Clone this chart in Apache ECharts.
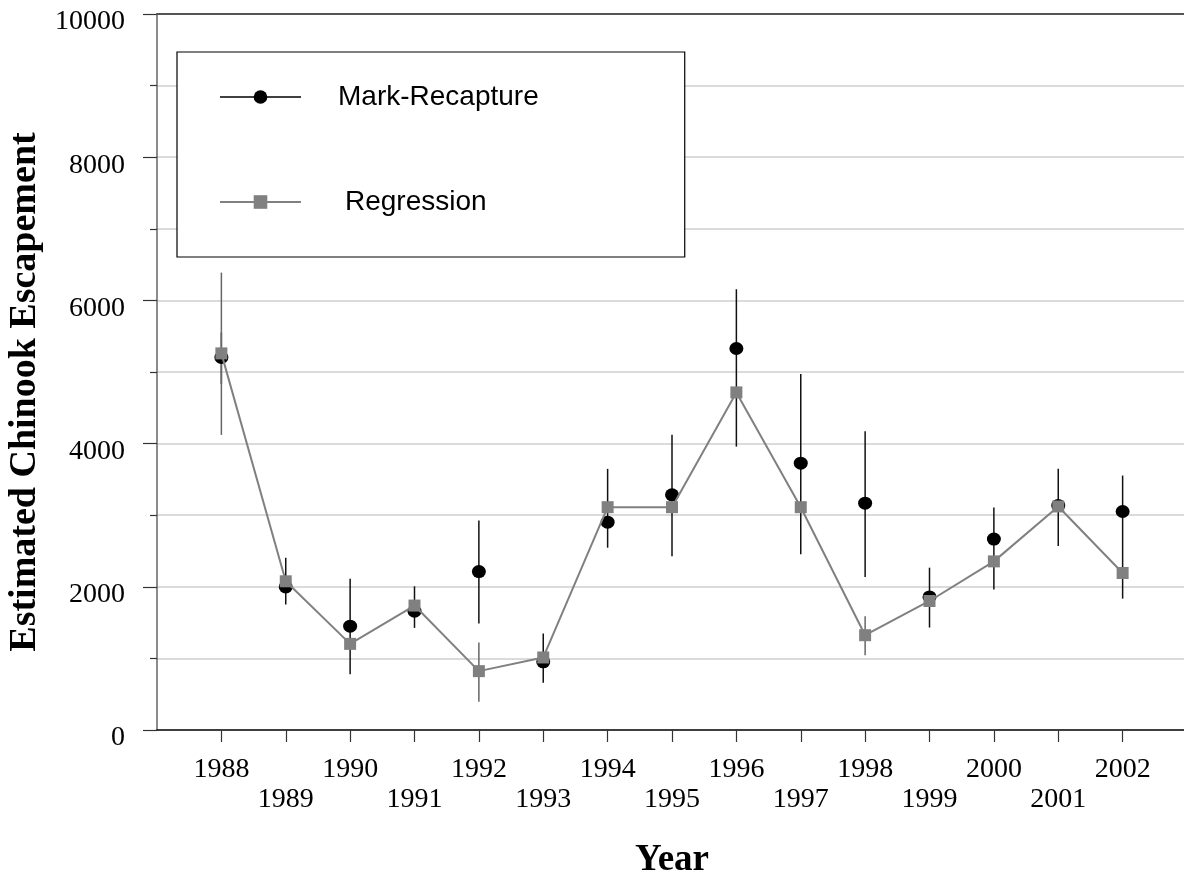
<!DOCTYPE html>
<html>
<head>
<meta charset="utf-8">
<script src="https://cdn.jsdelivr.net/npm/echarts@6/dist/echarts.min.js"></script>
<style>
html,body{margin:0;padding:0;background:#fff;}
#chart{width:1184px;height:877px;}
</style>
</head>
<body>
<div id="chart"></div>
<script>
const years = [1988, 1989, 1990, 1991, 1992, 1993, 1994, 1995, 1996, 1997, 1998, 1999, 2000, 2001, 2002];
const markRecapture = [5203, 1998, 1450, 1659, 2212, 952, 2903, 3285, 5328, 3726, 3168, 1858, 2667, 3136, 3052];
const regression = [5260, 2077, 1203, 1738, 822, 1013, 3112, 3112, 4715, 3112, 1324, 1802, 2355, 3122, 2193];
const mrLow = [4832, 1752, 780, 1426, 1487, 660, 2546, 2425, 3958, 2453, 2137, 1431, 1961, 2569, 1835];
const mrHigh = [5551, 2407, 2114, 2007, 2927, 1347, 3647, 4125, 6156, 4971, 4171, 2267, 3108, 3647, 3554];
const regLow = [4121, null, null, null, 395, null, null, null, null, null, 1045, null, null, null, null];
const regHigh = [6388, null, null, null, 1222, null, null, null, null, null, 1589, null, null, null, null];
const yTicks = [0, 2000, 4000, 6000, 8000, 10000];

const mrPoints = years.map((y, i) => [y, markRecapture[i]]);
const regPoints = years.map((y, i) => [y, regression[i]]);
const mrBars = years.map((y, i) => [y, mrLow[i], mrHigh[i]]);
const regBars = years.map((y, i) => [y, regLow[i], regHigh[i]]).filter(d => d[1] != null);

function barRenderer(color) {
  return function (params, api) {
    const p1 = api.coord([api.value(0), api.value(1)]);
    const p2 = api.coord([api.value(0), api.value(2)]);
    return {
      type: 'line',
      shape: { x1: p1[0], y1: p1[1], x2: p2[0], y2: p2[1] },
      style: { stroke: color, lineWidth: 1.5 }
    };
  };
}

const chart = echarts.init(document.getElementById('chart'), null, { renderer: 'canvas' });
const serif = '"Liberation Serif", "Times New Roman", serif';
const sans = '"Liberation Sans", Arial, sans-serif';

chart.setOption({
  animation: false,
  backgroundColor: '#fff',
  grid: { left: 157, right: -3, top: 14, bottom: 147, containLabel: false, outerBoundsMode: 'none' },
  legend: {
    left: 177, top: 52, orient: 'vertical',
    backgroundColor: '#fff', borderColor: '#000', borderWidth: 1.2, borderRadius: 0,
    padding: [28, 146, 38, 42],
    itemGap: 71, itemWidth: 81, itemHeight: 17,
    textStyle: { fontFamily: sans, fontSize: 28, color: '#000', lineHeight: 34, padding: [0, 0, 0, 32] },
    data: [
      { name: 'Mark-Recapture', lineStyle: { color: '#000', width: 1.5, opacity: 1 } },
      { name: 'Regression', textStyle: { padding: [0, 0, 0, 39] } }
    ]
  },
  xAxis: [{
    type: 'value', min: 1987, max: 2003, interval: 1,
    axisLine: { show: true, onZero: false, lineStyle: { color: '#000', width: 1.5 } },
    axisTick: { show: true, customValues: years, length: 12, lineStyle: { color: '#333', width: 1.2 } },
    axisLabel: {
      customValues: years, margin: 25,
      fontFamily: serif, fontSize: 28, color: '#000', lineHeight: 30,
      formatter: v => (v % 2 === 0 ? String(v) : '\n' + v)
    },
    splitLine: { show: false },
    name: 'Year', nameLocation: 'middle', nameGap: 112,
    nameTextStyle: { fontFamily: serif, fontSize: 37, fontWeight: 'bold', color: '#000', lineHeight: 36 }
  }, {
    type: 'value', position: 'top', min: 1987, max: 2003, z: 10,
    axisLine: { show: true, onZero: false, lineStyle: { color: '#555', width: 2 } },
    axisTick: { show: false }, axisLabel: { show: false }, splitLine: { show: false }
  }],
  yAxis: {
    type: 'value', min: 0, max: 10000, interval: 2000,
    axisLine: { show: true, lineStyle: { color: '#666', width: 1.5 } },
    axisTick: { show: true, length: 14, lineStyle: { color: '#333', width: 1.2 } },
    minorTick: { show: true, splitNumber: 2, length: 7, lineStyle: { color: '#333', width: 1.2 } },
    splitLine: { show: true, showMinLine: false, showMaxLine: false, lineStyle: { color: '#cfcfcf', width: 1.5 } },
    minorSplitLine: { show: true, lineStyle: { color: '#cfcfcf', width: 1.5 } },
    axisLabel: {
      customValues: yTicks, margin: 32, fontFamily: serif, fontSize: 28, color: '#000',
      verticalAlign: 'top', lineHeight: 16,
      formatter: v => String(v)
    },
    name: 'Estimated Chinook Escapement', nameLocation: 'middle', nameGap: 102, nameRotate: 90,
    nameTextStyle: { fontFamily: serif, fontSize: 38, fontWeight: 'bold', color: '#000', padding: [0, 40, 0, 0] }
  },
  series: [
    {
      type: 'custom', name: 'mrErr', renderItem: barRenderer('#111'),
      data: mrBars, encode: { x: 0, y: [1, 2] }, z: 1, silent: true
    },
    {
      type: 'custom', name: 'regErr', renderItem: barRenderer('#666'),
      data: regBars, encode: { x: 0, y: [1, 2] }, z: 1, silent: true
    },
    {
      type: 'line', name: 'Mark-Recapture', data: mrPoints,
      symbol: 'circle', symbolSize: [14, 13], showSymbol: true,
      itemStyle: { color: '#000' },
      lineStyle: { width: 0, opacity: 0 }, z: 3
    },
    {
      type: 'line', name: 'Regression', data: regPoints,
      symbol: 'rect', symbolSize: 12, showSymbol: true,
      itemStyle: { color: '#808080' },
      lineStyle: { color: '#808080', width: 2 }, z: 4
    }
  ]
});
</script>
</body>
</html>
